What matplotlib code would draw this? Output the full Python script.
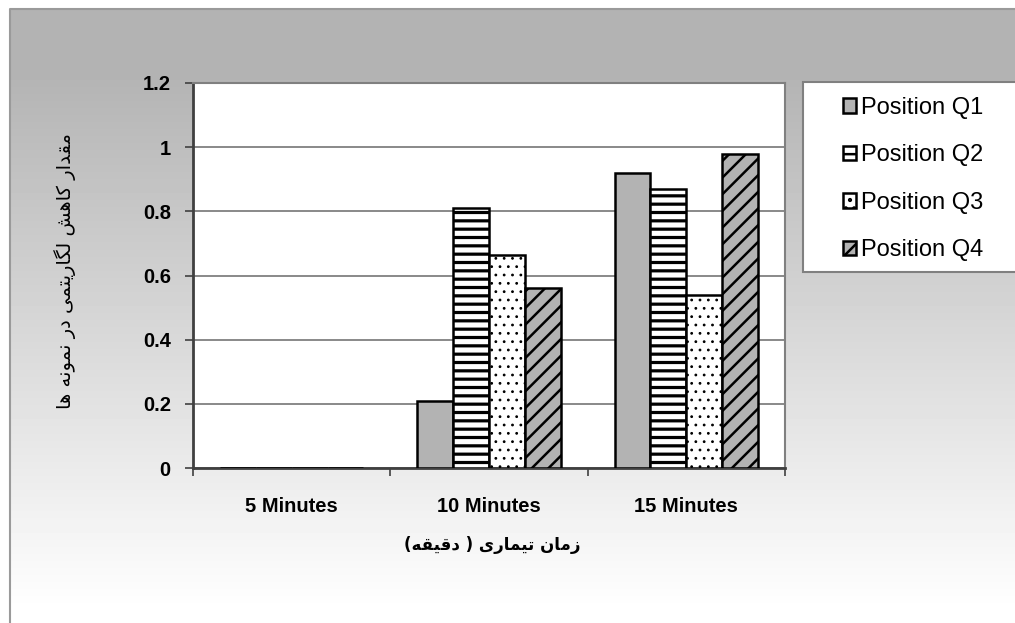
import numpy as np
import matplotlib
matplotlib.use("Agg")
import matplotlib.pyplot as plt
from matplotlib.patches import Rectangle

categories = ["5 Minutes", "10 Minutes", "15 Minutes"]
series = ["Position Q1", "Position Q2", "Position Q3", "Position Q4"]
q1 = [0.0, 0.21, 0.92]
q2 = [0.0, 0.81, 0.87]
q3 = [0.0, 0.665, 0.54]
q4 = [0.0, 0.56, 0.98]
yticks = [0, 0.2, 0.4, 0.6, 0.8, 1.0, 1.2]
ytick_labels = ["0", "0.2", "0.4", "0.6", "0.8", "1", "1.2"]

# persian labels in shaped (presentation) forms, logical order
ylabel_fa = ("\ufee3\ufed8\ufeaa\ufe8d\ufead \ufb90\ufe8e\ufeeb\ufeb6 "
             "\ufedf\ufb95\ufe8e\ufead\ufbfe\ufe98\ufee4\ufbfd \ufea9\ufead "
             "\ufee7\ufee4\ufeee\ufee7\ufeea \ufeeb\ufe8e")
xlabel_fa = ("\ufeaf\ufee3\ufe8e\ufee5 \ufe97\ufbff\ufee4\ufe8e\ufead\ufbfc "
             "( \ufea9\ufed7\ufbff\ufed8\ufeea)")


def rtl(s):
    mirror = {"(": ")", ")": "("}
    return "".join(mirror.get(c, c) for c in reversed(s))


fig = plt.figure(figsize=(10.15, 6.23), dpi=100)

# chart area gradient background
bg = fig.add_axes([0, 0, 1, 1], zorder=-10)
h, w = 623, 1015
ys = np.arange(h)
shade = np.clip(0xb3 + (0xff - 0xb3) * (ys - 70) / 540.0, 0xb3, 0xff) / 255.0
img = np.repeat(shade[:, None], w, axis=1)
img[:9, :] = 1.0
img[:, :10] = 1.0
bg.imshow(img, cmap="gray", vmin=0, vmax=1, aspect="auto", extent=(0, w, h, 0))
bg.plot([10, 10, w], [h, 9, 9], color="#9a9a9a", lw=1.5)
bg.set_xlim(0, w)
bg.set_ylim(h, 0)
bg.axis("off")

ax = fig.add_axes([193 / 1015, 1 - 468 / 623, 592 / 1015, 385 / 623])
ax.set_facecolor("white")

x = np.arange(len(categories))
bw = 1 / 5.5
styles = [
    dict(color="#b3b3b3", hatch=None, hlw=1.0),
    dict(color="white", hatch="--", hlw=2.3),
    dict(color="white", hatch="..", hlw=0.8),
    dict(color="#b3b3b3", hatch="//", hlw=1.8),
]
bars = []
for i, (vals, st) in enumerate(zip([q1, q2, q3, q4], styles)):
    plt.rcParams["hatch.linewidth"] = st["hlw"]
    b = ax.bar(x + (i - 1.5) * bw, vals, bw, color=st["color"], hatch=st["hatch"],
               edgecolor="black", linewidth=1.8, label=series[i], zorder=3)
    bars.append(b)

ax.set_xlim(-0.5, 2.5)
ax.set_ylim(0, 1.2)
ax.set_yticks(yticks)
ax.set_yticklabels(ytick_labels)
ax.set_xticks([-0.5, 0.5, 1.5, 2.5])
ax.set_xticklabels([])
ax.set_xticks(x, minor=True)
ax.set_xticklabels(categories, minor=True)
ax.tick_params(axis="x", which="minor", length=0, pad=21)
ax.tick_params(axis="x", which="major", length=6, width=1.2, color="#404040")
ax.tick_params(axis="y", length=6, width=1.2, color="#404040", pad=10)
for lab in ax.get_yticklabels() + ax.get_xticklabels(minor=True):
    lab.set_fontfamily("Liberation Sans")
    lab.set_fontweight("bold")
    lab.set_fontsize(14.5)

ax.grid(axis="y", color="#808080", lw=1.3, zorder=0)
ax.spines["left"].set_color("#404040")
ax.spines["left"].set_linewidth(2)
ax.spines["bottom"].set_color("#404040")
ax.spines["bottom"].set_linewidth(2)
ax.spines["top"].set_color("#808080")
ax.spines["top"].set_linewidth(1.5)
ax.spines["right"].set_color("#808080")
ax.spines["right"].set_linewidth(1.5)

fig.text(492 / 1015, 1 - 545 / 623, rtl(xlabel_fa), ha="center", va="center",
         fontsize=12, fontweight="bold", family=["DejaVu Sans"])
fig.text(65 / 1015, 1 - 271 / 623, rtl(ylabel_fa), ha="center", va="center",
         rotation=90, fontsize=14, family=["DejaVu Sans"])

# legend box
fig.patches.append(Rectangle((803 / 1015, 1 - 272 / 623), 0.3, 190 / 623,
                             transform=fig.transFigure, facecolor="white",
                             edgecolor="#808080", lw=1.5, zorder=1))
leg = fig.legend(handles=bars, labels=series, loc="upper left",
                 bbox_to_anchor=(822 / 1015, 1 - 75.5 / 623), frameon=False,
                 prop={"family": "Liberation Sans", "size": 17},
                 handlelength=0.55, handleheight=0.55, handletextpad=0.2,
                 labelspacing=1.08)
leg.set_zorder(5)

fig.savefig("out.png", dpi=100)
